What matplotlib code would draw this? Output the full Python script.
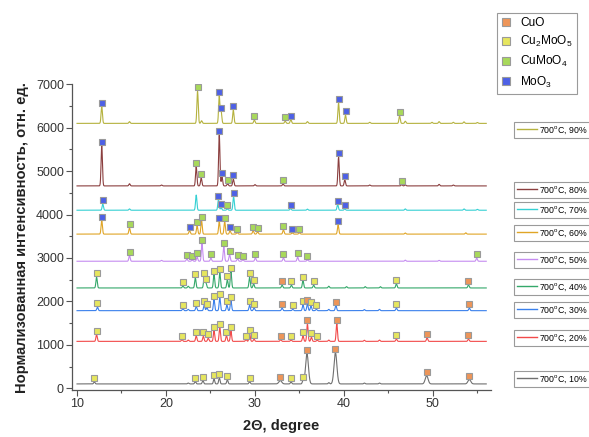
import numpy as np
import matplotlib
matplotlib.use("Agg")
import matplotlib.pyplot as plt
from matplotlib.lines import Line2D

plt.rcParams['font.family'] = ['Liberation Sans', 'DejaVu Sans']
plt.rcParams['mathtext.default'] = 'regular'

# ---------------- data ----------------
series_labels = ["700$^{o}$C, 10%", "700$^{o}$C, 20%", "700$^{o}$C, 30%", "700$^{o}$C, 40%",
                 "700$^{o}$C, 50%", "700$^{o}$C, 60%", "700$^{o}$C, 70%", "700$^{o}$C, 80%",
                 "700$^{o}$C, 90%"]
baselines = [100, 1080, 1787, 2310, 2925, 3550, 4100, 4660, 6100]

# peaks: (2theta, height above baseline, phase) ; phase None = unmarked
# phases: 'O' CuO, 'Y' Cu2MoO5, 'G' CuMoO4, 'B' MoO3
peaks_10 = [(11.95, 45, 'Y'), (23.3, 55, 'Y'), (24.15, 77, 'Y'), (25.4, 110, 'Y'), (26.0, 140, 'Y'),
            (26.9, 95, 'Y'), (29.4, 55, 'Y'), (32.85, 77, 'O'), (34.06, 47, 'Y'), (35.4, 77, 'Y'),
            (35.85, 690, 'O'), (39.05, 720, 'O'), (49.3, 190, 'O'), (54.1, 100, 'O'),
            (22.5, 20, None), (38.3, 30, None), (42.3, 20, None), (44.0, 20, None)]
peaks_20 = [(12.2, 156, 'Y'), (21.8, 40, 'Y'), (23.4, 126, 'Y'), (24.2, 119, 'Y'), (24.75, 73, 'Y'),
            (25.4, 248, 'Y'), (26.05, 317, 'Y'), (26.8, 133, 'Y'), (27.3, 234, 'Y'), (29.0, 40, 'Y'),
            (29.4, 179, 'Y'), (29.9, 50, 'Y'), (32.9, 40, 'O'), (34.06, 30, 'Y'), (35.4, 126, 'Y'),
            (35.9, 403, 'O'), (36.35, 96, 'Y'), (37.0, 30, 'Y'), (39.2, 403, 'O'), (45.9, 50, 'Y'),
            (49.35, 80, 'O'), (54.0, 50, 'O'),
            (22.5, 30, None), (38.3, 30, None), (42.3, 25, None), (44.0, 30, None)]
peaks_30 = [(12.3, 80, 'Y'), (21.9, 41, 'Y'), (23.4, 94, 'Y'), (24.3, 126, 'Y'), (24.6, 71, 'Y'),
            (25.4, 255, 'Y'), (26.05, 294, 'Y'), (26.85, 126, 'Y'), (27.3, 232, 'Y'), (29.4, 126, 'Y'),
            (29.9, 64, 'Y'), (33.05, 57, 'O'), (34.25, 30, 'Y'), (35.4, 133, 'Y'), (35.9, 156, 'O'),
            (36.3, 103, 'Y'), (36.9, 30, 'Y'), (39.1, 117, 'O'), (45.9, 57, 'Y'), (54.1, 57, 'O'),
            (22.5, 30, None), (38.3, 30, None), (42.3, 25, None), (44.0, 30, None)]
peaks_40 = [(12.2, 248, 'Y'), (21.9, 41, 'Y'), (23.3, 232, 'Y'), (24.3, 262, 'Y'), (24.5, 110, 'Y'),
            (25.4, 308, 'Y'), (26.05, 347, 'Y'), (26.9, 186, 'Y'), (27.3, 378, 'Y'), (29.4, 248, 'Y'),
            (29.85, 94, 'Y'), (33.05, 64, 'O'), (34.1, 64, 'Y'), (35.4, 170, 'Y'), (36.6, 64, 'Y'),
            (45.9, 94, 'Y'), (54.0, 71, 'O'),
            (22.5, 40, None), (38.3, 40, None), (40.3, 30, None), (42.4, 30, None), (44.1, 30, None)]
peaks_50 = [(15.9, 130, 'G'), (22.35, 54, 'G'), (22.95, 31, 'G'), (23.5, 93, 'G'), (24.05, 400, 'G'),
            (25.05, 70, 'G'), (26.5, 338, 'G'), (27.15, 153, 'G'), (28.05, 61, 'G'), (28.65, 38, 'G'),
            (30.05, 77, 'G'), (33.2, 77, 'G'), (34.8, 93, 'G'), (35.9, 31, 'G'), (54.93, 70, 'G'),
            (19.5, 20, None), (46.9, 25, None), (50.7, 20, None)]
peaks_60 = [(12.78, 312, 'B'), (15.9, 143, 'G'), (22.65, 81, 'B'), (23.5, 189, 'G'), (24.0, 312, 'G'),
            (25.99, 289, 'B'), (26.6, 289, 'G'), (27.2, 74, 'B'), (28.0, 35, 'G'), (29.8, 81, 'G'),
            (30.3, 58, 'G'), (33.2, 97, 'G'), (34.2, 30, 'B'), (35.0, 30, 'G'), (39.35, 208, 'B'),
            (46.9, 25, None), (53.7, 30, None)]
peaks_70 = [(12.9, 139, 'B'), (23.4, 350, None), (25.9, 245, 'B'), (26.2, 60, 'B'), (26.9, 30, 'G'),
            (27.6, 314, 'B'), (34.0, 38, 'B'), (39.3, 130, 'B'), (40.1, 30, 'B'),
            (15.9, 30, None), (35.9, 25, None), (46.9, 30, None), (53.5, 30, None), (55.0, 20, None)]
peaks_80 = [(12.78, 921, 'B'), (23.4, 445, 'G'), (23.96, 184, 'G'), (25.99, 1175, 'B'), (26.3, 200, 'B'),
            (26.93, 53, 'G'), (27.57, 154, 'B'), (33.16, 46, 'G'), (39.4, 661, 'B'), (40.1, 138, 'B'),
            (46.5, 30, 'G'),
            (15.9, 50, None), (19.5, 20, None), (30.0, 30, None), (42.9, 20, None), (46.9, 25, None),
            (50.7, 35, None), (52.3, 20, None)]
peaks_90 = [(12.78, 386, 'B'), (23.55, 741, 'G'), (25.99, 626, 'B'), (26.2, 271, 'B'), (27.57, 303, 'B'),
            (29.93, 80, 'G'), (33.4, 50, 'G'), (34.03, 87, 'B'), (39.4, 464, 'B'), (40.18, 188, 'B'),
            (46.26, 172, 'G'),
            (15.9, 40, None), (24.0, 60, None), (35.9, 40, None), (42.9, 25, None), (46.9, 50, None),
            (49.9, 25, None), (50.7, 40, None), (52.3, 25, None), (53.5, 35, None), (55.0, 20, None)]
all_peaks = [peaks_10, peaks_20, peaks_30, peaks_40, peaks_50, peaks_60, peaks_70, peaks_80, peaks_90]

phase_keys = ['O', 'Y', 'G', 'B']
phase_labels = ["CuO", "Cu$_2$MoO$_5$", "CuMoO$_4$", "MoO$_3$"]

x_ticks = [10, 20, 30, 40, 50]
y_ticks = [0, 1000, 2000, 3000, 4000, 5000, 6000, 7000]
two_theta_range = (10.0, 56.0)

# ---------------- styles / layout ----------------
line_colors = ['#707070', '#F24A4A', '#3A80EC', '#34A86A', '#C58CF0', '#E0A526', '#35D0D3', '#8B3F3F', '#B5B23E']
phase_colors = {'O': '#EE9558', 'Y': '#E6E65E', 'G': '#A8D95A', 'B': '#4D60E6'}
label_box_y_px = [379, 338, 310, 287, 260, 233, 210, 190, 130]
W, H = 589, 437
marker_offset = 90

fig = plt.figure(figsize=(W / 100, H / 100), dpi=100)
ax = fig.add_axes([72.3 / W, 1 - 390 / H, (490.7 - 72.3) / W, (390 - 84.3) / H])

xs = np.linspace(two_theta_range[0], two_theta_range[1], 3000)
for i, (peaks, base, col) in enumerate(zip(all_peaks, baselines, line_colors)):
    yv = np.full_like(xs, float(base))
    for pos, h, ph in peaks:
        sig = 0.16 if (i == 0 and ph == 'O') else 0.075
        yv += h * np.exp(-0.5 * ((xs - pos) / sig) ** 2)
    ax.plot(xs, yv, color=col, lw=0.8, zorder=2)
    for pos, h, ph in peaks:
        if ph is not None:
            ax.plot([pos], [base + h + marker_offset], marker='s', ms=4.6, mfc=phase_colors[ph],
                    mec='#9A9A9A', mew=0.8, ls='none', zorder=4)

ax.set_xlim(9.47, 56.5)
ax.set_ylim(-40, 7000)
ax.set_xticks(x_ticks)
ax.set_xticks([15, 25, 35, 45, 55], minor=True)
ax.set_yticks(y_ticks)
ax.set_yticks(np.arange(500, 7000, 1000), minor=True)
for s in ['top', 'right']:
    ax.spines[s].set_visible(False)
for s in ['left', 'bottom']:
    ax.spines[s].set_color('#555555')
    ax.spines[s].set_linewidth(0.9)
ax.tick_params(which='major', direction='out', length=4, width=0.8, color='#555555',
               labelsize=9, labelcolor='#333333', pad=2)
ax.tick_params(which='minor', direction='out', length=2.2, width=0.8, color='#555555')
ax.set_xlabel("2Θ, degree", fontsize=10.5, fontweight='bold', color='#222222', labelpad=6)
ax.set_ylabel("Нормализованная интенсивность, отн. ед.", fontsize=10.6, fontweight='bold',
              color='#222222', labelpad=5)

# phase legend
handles = [Line2D([], [], marker='s', ms=5.5, mfc=phase_colors[k], mec='#9A9A9A', mew=0.8, ls='none')
           for k in phase_keys]
pleg = fig.legend(handles, phase_labels, loc='upper left', bbox_to_anchor=(497 / W, 1 - 13 / H),
                  fontsize=8.6, frameon=True, fancybox=False, edgecolor='#9A9A9A', framealpha=1,
                  handlelength=0.8, handletextpad=0.8, labelspacing=0.42, borderpad=0.35, borderaxespad=0)
pleg.get_frame().set_linewidth(0.8)

# series label boxes
for lab, col, ypx in zip(series_labels, line_colors, label_box_y_px):
    leg = fig.legend([Line2D([], [], color=col, lw=1.0)], [lab], loc='center left',
                     bbox_to_anchor=(514 / W, 1 - ypx / H), fontsize=6.3, frameon=True,
                     fancybox=False, edgecolor='#9A9A9A', framealpha=1, handlelength=2.3,
                     handletextpad=0.25, borderpad=0.3, borderaxespad=0)
    leg.get_frame().set_linewidth(0.8)

fig.savefig("out.png", dpi=100)
